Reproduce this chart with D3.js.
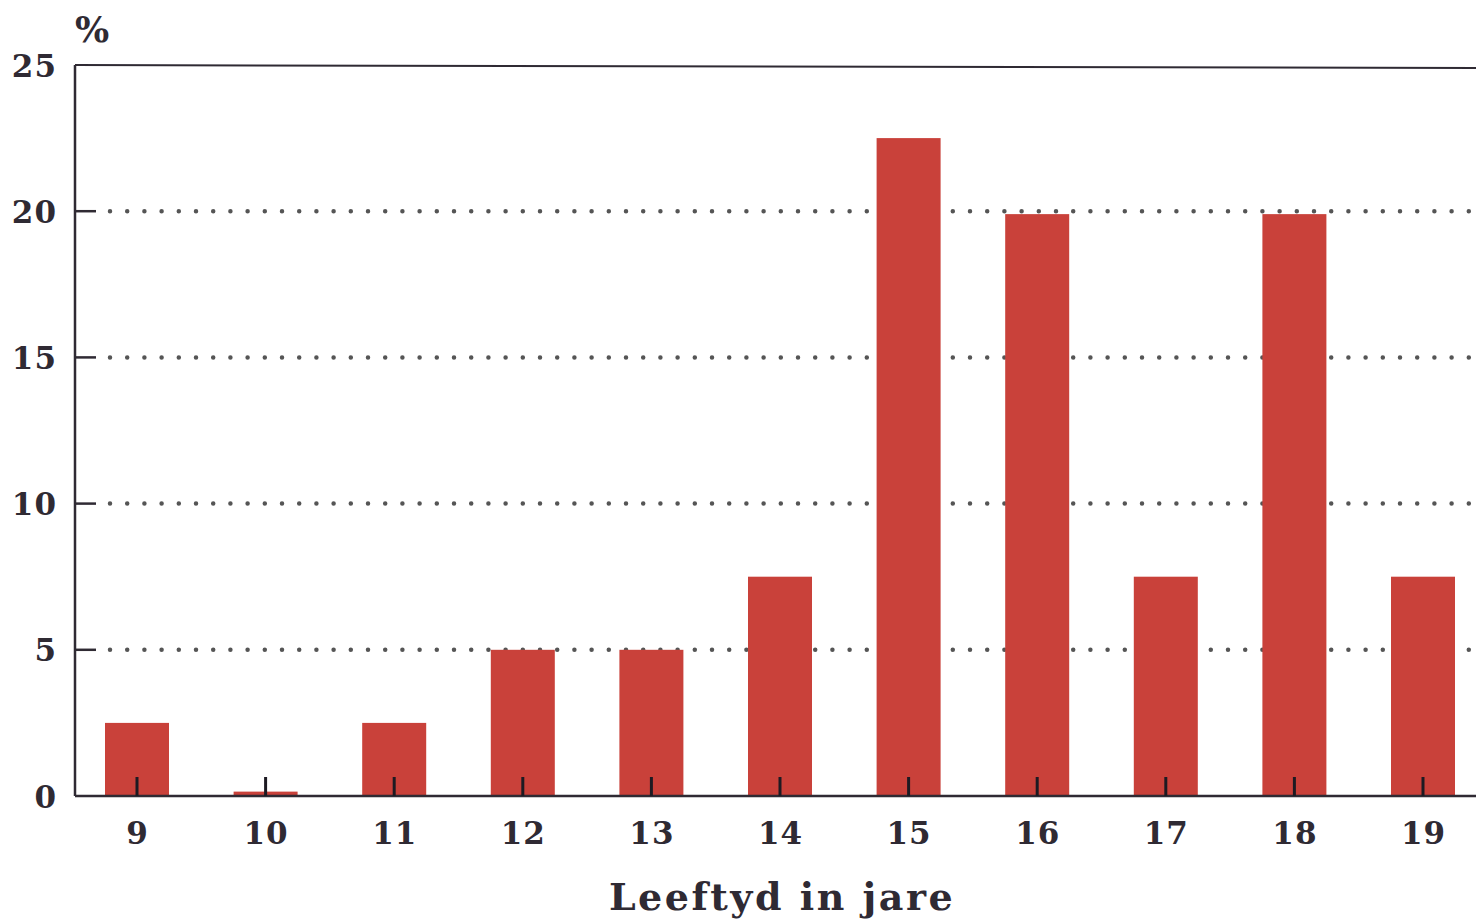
<!DOCTYPE html>
<html><head><meta charset="utf-8">
<script src="https://cdn.jsdelivr.net/npm/d3@7"></script>
<style>body{margin:0;background:#fff}svg{display:block}</style>
</head><body>
<script>
const categories = ["9","10","11","12","13","14","15","16","17","18","19"];
const values = [2.5, 0.15, 2.5, 5, 5, 7.5, 22.5, 19.9, 7.5, 19.9, 7.5];
const yTicks = [0, 5, 10, 15, 20, 25];
const xTitle = "Leeftyd in jare";
const yUnit = "%";

const W = 1476, H = 921;
const svg = d3.select("body").append("svg").attr("width", W).attr("height", H);
const font = "'DejaVu Serif', serif";
const ink = "#2f2a33";

const x = d3.scalePoint().domain(categories).range([137, 1423]);
const y = d3.scaleLinear().domain([0, 25]).range([796, 65]);
const left = 75, right = W;
const barW = 64;

// gridlines (dotted)
svg.append("g").selectAll("line").data(yTicks.filter(d => d > 0 && d < 25)).join("line")
  .attr("x1", 110).attr("x2", right).attr("y1", d => y(d)).attr("y2", d => y(d))
  .attr("stroke", "#555").attr("stroke-width", 4.5).attr("stroke-linecap", "round")
  .attr("stroke-dasharray", "0 17.2");

// bars
svg.append("g").selectAll("rect").data(values).join("rect")
  .attr("x", (d, i) => x(categories[i]) - barW / 2)
  .attr("width", barW)
  .attr("y", d => y(d))
  .attr("height", d => y(0) - y(d))
  .attr("fill", "#c9413a");

// frame
svg.append("line").attr("x1", left).attr("x2", right).attr("y1", y(25)).attr("y2", y(25) + 3)
  .attr("stroke", ink).attr("stroke-width", 2);
svg.append("line").attr("x1", left).attr("x2", left).attr("y1", y(25)).attr("y2", y(0))
  .attr("stroke", ink).attr("stroke-width", 2.5);
svg.append("line").attr("x1", left).attr("x2", right).attr("y1", y(0)).attr("y2", y(0))
  .attr("stroke", ink).attr("stroke-width", 2.5);

// y axis ticks + labels
const yAxis = d3.axisLeft(y).tickValues(yTicks).tickSize(0).tickPadding(0);
const gy = svg.append("g").attr("transform", `translate(${left},0)`).call(yAxis);
gy.select(".domain").remove();
gy.selectAll(".tick text").attr("x", -18).attr("dy", "0.36em")
  .attr("font-family", font).attr("font-weight", "bold").attr("font-size", 31)
  .attr("letter-spacing", 1).attr("fill", ink);
svg.append("g").selectAll("line").data(yTicks.filter(d => d > 0 && d < 25)).join("line")
  .attr("x1", left).attr("x2", left + 21).attr("y1", d => y(d)).attr("y2", d => y(d))
  .attr("stroke", ink).attr("stroke-width", 2.5);

// x axis ticks + labels
const xAxis = d3.axisBottom(x).tickSize(0).tickPadding(0);
const gx = svg.append("g").attr("transform", `translate(0,${y(0)})`).call(xAxis);
gx.select(".domain").remove();
gx.selectAll(".tick text").attr("y", 37).attr("dy", "0.36em")
  .attr("font-family", font).attr("font-weight", "bold").attr("font-size", 31)
  .attr("letter-spacing", 1).attr("fill", ink);
svg.append("g").selectAll("line").data(categories).join("line")
  .attr("x1", d => x(d)).attr("x2", d => x(d)).attr("y1", y(0) - 19).attr("y2", y(0))
  .attr("stroke", "#1d1a22").attr("stroke-width", 3);

// titles
svg.append("text").attr("x", 782).attr("y", 910).attr("text-anchor", "middle")
  .attr("font-family", font).attr("font-weight", "bold").attr("font-size", 38)
  .attr("letter-spacing", 2.5).attr("fill", ink)
  .text(xTitle);
svg.append("text").attr("x", 92).attr("y", 42).attr("text-anchor", "middle")
  .attr("font-family", font).attr("font-weight", "bold").attr("font-size", 36).attr("fill", ink)
  .text(yUnit);
</script>
</body></html>
